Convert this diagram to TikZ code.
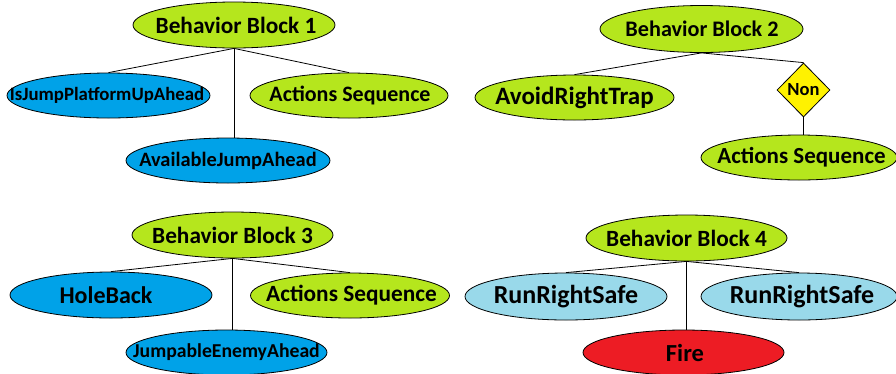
\documentclass[tikz,border=0pt]{standalone}
\usepackage{fontspec}
\setmainfont{Carlito}
\usetikzlibrary{shapes.geometric}
\definecolor{lime}{HTML}{B5E61D}
\definecolor{turq}{HTML}{00A2E8}
\definecolor{lturq}{HTML}{99D9EA}
\definecolor{redf}{HTML}{ED1C24}
\definecolor{yell}{HTML}{FFF200}
\tikzset{
  ell/.style={ellipse, draw=black, line width=0.8pt, inner sep=0pt, font=\bfseries},
  green/.style={ell, fill=lime},
  blue/.style={ell, fill=turq},
  lblue/.style={ell, fill=lturq},
  red/.style={ell, fill=redf},
  dia/.style={diamond, draw=black, line width=0.8pt, fill=yell, inner sep=0pt, font=\bfseries},
  link/.style={draw=black, line width=0.8pt},
}
% #1 size, #2 horizontal shift, #3 text
\newcommand{\fs}[3]{\makebox[0pt]{\hspace*{#2pt}\hspace*{#2pt}\fontsize{#1}{#1}\selectfont #3}}
\begin{document}
\begin{tikzpicture}[x=1pt,y=-1pt]
\useasboundingbox (0,0) rectangle (896,373);
% Block 1
\node[green, minimum width=202, minimum height=46] (b1) at (234,25) {\fs{23.3}{2}{Behavior Block 1}};
\node[blue, minimum width=203, minimum height=45] (b1a) at (108.5,95.5) {\fs{18.8}{-1.5}{IsJumpPlatformUpAhead}};
\node[green, minimum width=198, minimum height=45] (b1c) at (349,95.5) {\fs{22}{1}{Actions Sequence}};
\node[blue, minimum width=204, minimum height=45] (b1b) at (228,160.5) {\fs{20.4}{0}{AvailableJumpAhead}};
\draw[link] (b1.south) -- (b1a.north);
\draw[link] (b1.south) -- (b1c.north);
\draw[link] (b1.south) -- (b1.south |- b1b.north);
% Block 2
\node[green, minimum width=203, minimum height=47] (b2) at (701.5,29) {\fs{22.2}{0.5}{Behavior Block 2}};
\node[green, minimum width=199, minimum height=45] (b2a) at (574.5,97.5) {\fs{25}{0}{AvoidRightTrap}};
\node[dia, minimum width=53, minimum height=54] (non) at (803.5,90) {\fs{18.5}{0}{Non}};
\node[green, minimum width=196, minimum height=45] (b2b) at (799,157.5) {\fs{23}{2.5}{Actions Sequence}};
\draw[link] (b2.south) -- (b2a.north);
\draw[link] (b2.south) -- (non.north);
\draw[link] (non.south) -- (non.south |- b2b.north);
% Block 3
\node[green, minimum width=201, minimum height=46] (b3) at (232.5,235) {\fs{23.3}{0}{Behavior Block 3}};
\node[blue, minimum width=202, minimum height=46] (b3a) at (111,295) {\fs{24}{-5}{HoleBack}};
\node[green, minimum width=199, minimum height=45] (b3c) at (350,295.5) {\fs{23.3}{1.5}{Actions Sequence}};
\node[blue, minimum width=201, minimum height=45] (b3b) at (226.5,352.5) {\fs{19.7}{0}{JumpableEnemyAhead}};
\draw[link] (b3.south) -- (b3a.north);
\draw[link] (b3.south) -- (b3c.north);
\draw[link] (b3.south) -- (b3.south |- b3b.north);
% Block 4
\node[green, minimum width=201, minimum height=46] (b4) at (686.5,238) {\fs{23.3}{0}{Behavior Block 4}};
\node[lblue, minimum width=202, minimum height=47] (b4a) at (566,296.5) {\fs{26}{0}{RunRightSafe}};
\node[lblue, minimum width=196, minimum height=47] (b4c) at (799,296.5) {\fs{26}{3}{RunRightSafe}};
\node[red, minimum width=201, minimum height=45] (b4b) at (683.5,352.5) {\fs{24.5}{1.5}{Fire}};
\draw[link] (b4.south) -- (b4a.north);
\draw[link] (b4.south) -- (b4c.north);
\draw[link] (b4.south) -- (b4.south |- b4b.north);
\end{tikzpicture}
\end{document}
